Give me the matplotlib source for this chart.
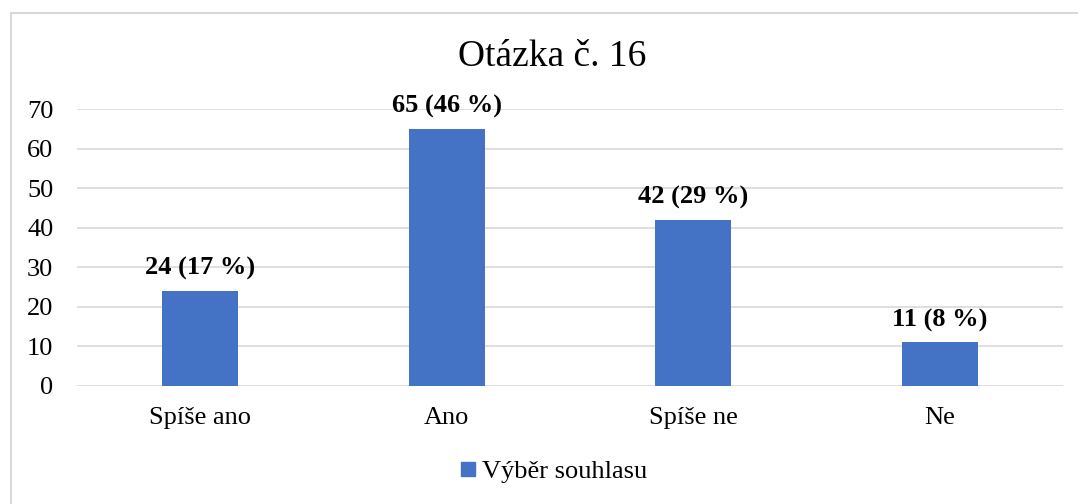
import matplotlib.pyplot as plt
from matplotlib.lines import Line2D

kategorie = ['Spíše ano', 'Ano', 'Spíše ne', 'Ne']
hodnoty = [24, 65, 42, 11]
procenta = [17, 46, 29, 8]
popisky = [f'{h} ({p} %)' for h, p in zip(hodnoty, procenta)]

plt.rcParams['font.family'] = ['Liberation Serif', 'DejaVu Serif']

W, H = 1078, 504
fig = plt.figure(figsize=(W / 100, H / 100), dpi=100)
ax = fig.add_axes([77 / W, 1 - 386 / H, 986 / W, 277 / H])

x = range(len(kategorie))
bars = ax.bar(x, hodnoty, width=0.31, color='#4472C4', zorder=3)
for b, t in zip(bars, popisky):
    ax.text(b.get_x() + b.get_width() / 2, b.get_height() + 2.7, t,
            ha='center', va='bottom', fontsize=19, fontweight='bold')

ax.set_xlim(-0.5, 3.5)
ax.set_ylim(0, 70)
ax.set_yticks(range(0, 71, 10))
ax.set_xticks(list(x))
ax.set_xticklabels(kategorie)
ax.grid(axis='y', color='#d9d9d9', linewidth=1.2, zorder=0)
for s in ax.spines.values():
    s.set_visible(False)
ax.tick_params(length=0, labelsize=19)
ax.tick_params(axis='x', pad=15)
ax.tick_params(axis='y', pad=17)

fig.text(552 / W, 1 - 57 / H, 'Otázka č. 16', ha='center', va='center', fontsize=27)

h = Line2D([], [], marker='s', linestyle='none', color='#4472C4', markersize=10)
fig.legend([h], ['Výběr souhlasu'], loc='center', bbox_to_anchor=(551 / W, 1 - 471 / H),
           frameon=False, fontsize=19, handletextpad=0.05, handlelength=1.0)

# rámeček grafu
fig.add_artist(Line2D([10.5 / W, 10.5 / W], [0, 1 - 13 / H], transform=fig.transFigure, color='#d9d9d9', lw=1.5))
fig.add_artist(Line2D([10.5 / W, 1], [1 - 13 / H, 1 - 13 / H], transform=fig.transFigure, color='#d9d9d9', lw=1.5))

fig.savefig('out.png', dpi=100)
